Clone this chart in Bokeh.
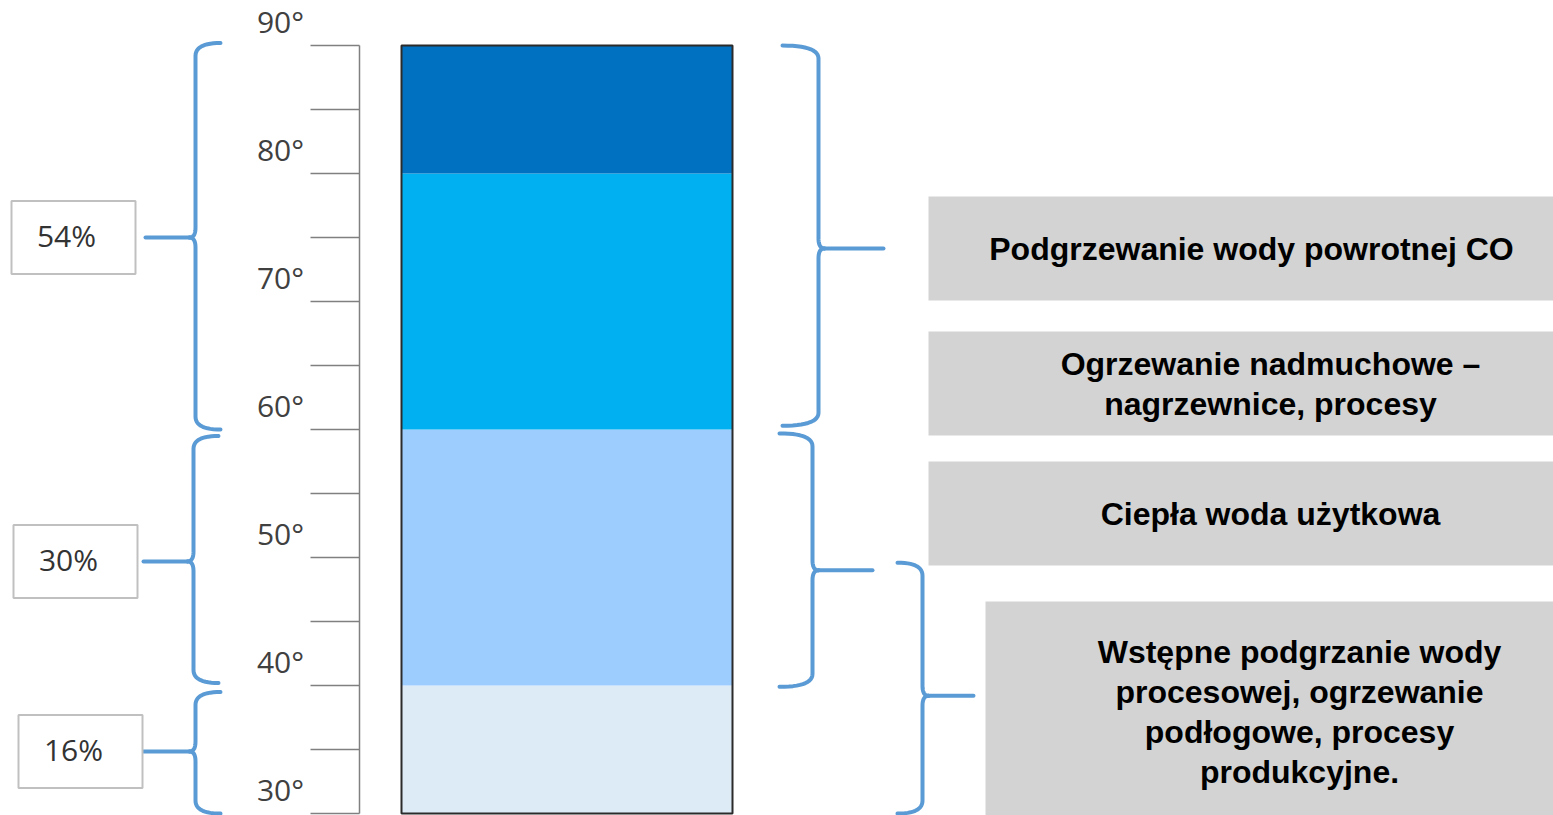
import numpy as np
from bokeh.plotting import figure
from bokeh.models import Range1d
from bokeh.core.properties import value
from bokeh.embed import file_html
from bokeh.resources import INLINE

# ---------------- data ----------------
seg_bottom = [30, 40, 60, 80]
seg_top = [40, 60, 80, 90]
seg_color = ["#DDEBF7", "#9DCDFF", "#00B0F0", "#0070C0"]

tick_temps = [30, 35, 40, 45, 50, 55, 60, 65, 70, 75, 80, 85, 90]
label_temps = [30, 40, 50, 60, 70, 80, 90]
label_texts = ["30°", "40°", "50°", "60°", "70°", "80°", "90°"]

share_texts = ["54%", "30%", "16%"]
share_hi = [90.2, 59.5, 39.5]
share_lo = [60.0, 40.2, 30.0]
share_mid = [75.0, 49.7, 34.85]

use_lines = [
    ["Podgrzewanie wody powrotnej CO"],
    ["Ogrzewanie nadmuchowe –", "nagrzewnice, procesy"],
    ["Ciepła woda użytkowa"],
    ["Wstępne podgrzanie wody", "procesowej, ogrzewanie", "podłogowe, procesy", "produkcyjne."],
]
use_hi = [90.0, 59.7, 49.6]
use_lo = [60.3, 39.9, 30.0]
use_mid = [74.15, 49.0, 39.2]

# ---------------- layout helpers ----------------
W, H = 1553, 815
PX = 12.8          # pixels per degree
T_TOP = 93.52      # temperature at the top edge of the canvas


def t_of(px):
    return T_TOP - px / PX


def px_of(t):
    return (T_TOP - t) * PX


p = figure(width=W, height=H, output_backend="svg", toolbar_location=None,
           x_range=Range1d(0, W), y_range=Range1d(t_of(H), T_TOP),
           min_border=0, outline_line_color=None, background_fill_color="white")
p.axis.visible = False
p.grid.visible = False

# ---------------- temperature scale ----------------
AX_X = 359
p.segment(x0=[AX_X], y0=[min(tick_temps)], x1=[AX_X], y1=[max(tick_temps)],
          line_color="#808080", line_width=1.5)
p.segment(x0=[310] * len(tick_temps), y0=tick_temps, x1=[AX_X] * len(tick_temps), y1=tick_temps,
          line_color="#808080", line_width=1.5)
p.text(x=[280] * len(label_temps), y=[t + 24 / PX for t in label_temps], text=label_texts,
       text_font=value("Open Sans"), text_font_size="30px", text_color="#404040",
       text_align="center", text_baseline="alphabetic")

# ---------------- stacked bar ----------------
BX0, BX1 = 401, 732
p.quad(left=[BX0] * 4, right=[BX1] * 4, bottom=seg_bottom, top=seg_top,
       fill_color=seg_color, line_color=None)
p.quad(left=[BX0], right=[BX1], bottom=[min(seg_bottom)], top=[max(seg_top)],
       fill_color=None, line_color="#2b2b2b", line_width=2)

# ---------------- braces ----------------
BRACE_COLOR = "#5B9BD5"


def qcurve(p0, c, p1, n=14):
    s = np.linspace(0, 1, n)
    x = (1 - s) ** 2 * p0[0] + 2 * (1 - s) * s * c[0] + s ** 2 * p1[0]
    y = (1 - s) ** 2 * p0[1] + 2 * (1 - s) * s * c[1] + s ** 2 * p1[1]
    return list(x), list(y)


def brace(xv, t_hi, t_lo, t_mid, tip_dir, tip_w, arm_x, r=13, cw=6, rc=10):
    """returns list of (xs, ys) polylines in (px x, temperature y)."""
    yt, yb, ym = px_of(t_hi), px_of(t_lo), px_of(t_mid)
    s = tip_dir
    paths = []
    x1, y1 = qcurve((xv + s * tip_w, yt), (xv, yt), (xv, yt + r))
    x2, y2 = qcurve((xv, ym - rc), (xv, ym), (xv - s * cw, ym))
    paths.append((x1 + x2, y1 + y2))
    x3, y3 = qcurve((xv - s * cw, ym), (xv, ym), (xv, ym + rc))
    x4, y4 = qcurve((xv, yb - r), (xv, yb), (xv + s * tip_w, yb))
    paths.append((x3 + x4, y3 + y4))
    paths.append(([xv - s * cw, arm_x], [ym, ym]))
    return [(xs, [t_of(v) for v in ys]) for xs, ys in paths]


left_xv = [195, 193, 195]
left_arm = [145, 143, 143]
right_xv = [818, 812, 922]
right_arm = [883, 872, 973]
right_tip = [36, 33, 25]

xs_all, ys_all = [], []
for i in range(len(share_texts)):
    for xs, ys in brace(left_xv[i], share_hi[i], share_lo[i], share_mid[i], +1, 25, left_arm[i]):
        xs_all.append(xs)
        ys_all.append(ys)
for i in range(len(use_hi)):
    for xs, ys in brace(right_xv[i], use_hi[i], use_lo[i], use_mid[i], -1, right_tip[i], right_arm[i]):
        xs_all.append(xs)
        ys_all.append(ys)
p.multi_line(xs=xs_all, ys=ys_all, line_color=BRACE_COLOR, line_width=4,
             line_cap="round", line_join="round")

# ---------------- share boxes ----------------
box_x0 = [11, 13, 18]
BOX_W, BOX_H = 124, 73
p.quad(left=box_x0, right=[x + BOX_W for x in box_x0],
       top=[t_of(px_of(m) - BOX_H / 2) for m in share_mid],
       bottom=[t_of(px_of(m) + BOX_H / 2) for m in share_mid],
       fill_color="white", line_color="#C0C0C0", line_width=2)
p.text(x=[x + 55 for x in box_x0], y=[t_of(px_of(m) - 2) for m in share_mid], text=share_texts,
       text_font=value("Open Sans"), text_font_size="30px", text_color="#333333",
       text_align="center", text_baseline="alphabetic")

# ---------------- use boxes ----------------
gbox = [(928, 196, 300), (928, 331, 435), (928, 461, 565), (985, 601, 815)]
p.quad(left=[g[0] for g in gbox], right=[W] * len(gbox),
       top=[t_of(g[1]) for g in gbox], bottom=[t_of(g[2]) for g in gbox],
       fill_color="#D3D3D3", line_color=None)

text_cx = [1251, 1270, 1270, 1299]
LINE_H = 40
tx, ty, tt = [], [], []
for i, lines in enumerate(use_lines):
    cy = (gbox[i][1] + gbox[i][2]) / 2
    if i == 3:
        cy = 711
    n = len(lines)
    for k, s in enumerate(lines):
        tx.append(text_cx[i])
        ty.append(t_of(cy + (k - (n - 1) / 2) * LINE_H))
        tt.append(s)
p.text(x=tx, y=ty, text=tt, text_font=value("Liberation Sans"), text_font_style="bold",
       text_font_size="32px", text_color="#000000", text_align="center",
       text_baseline="alphabetic")

open("out.html", "w").write(file_html(p, INLINE))
